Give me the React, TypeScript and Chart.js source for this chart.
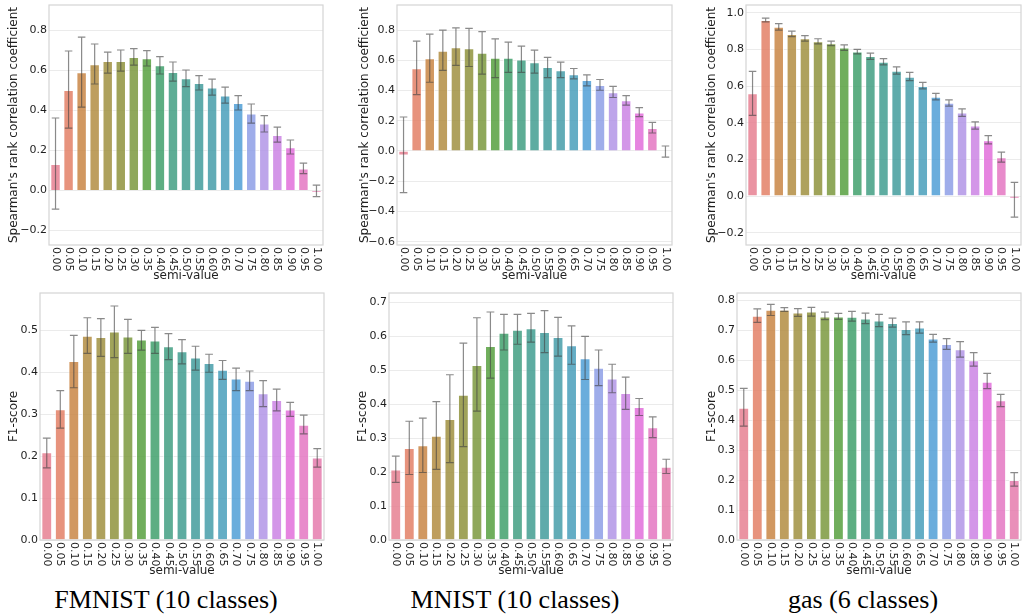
import React, { useEffect, useRef } from "react";
import { Chart, registerables } from "chart.js";
Chart.register(...registerables);

// ---------- data ----------
const semiValues = ["0.00","0.05","0.10","0.15","0.20","0.25","0.30","0.35","0.40","0.45","0.50","0.55","0.60","0.65","0.70","0.75","0.80","0.85","0.90","0.95","1.00"];

const fmnistSpearman = [0.133,0.503,0.592,0.632,0.648,0.648,0.668,0.662,0.627,0.593,0.562,0.538,0.515,0.475,0.438,0.385,0.335,0.278,0.217,0.11,-0.008];
const fmnistSpearmanLo = [-0.093,0.312,0.417,0.533,0.587,0.597,0.627,0.623,0.583,0.547,0.52,0.503,0.477,0.437,0.403,0.337,0.293,0.242,0.183,0.085,-0.03];
const fmnistSpearmanHi = [0.363,0.698,0.767,0.733,0.692,0.703,0.71,0.70,0.67,0.643,0.603,0.575,0.557,0.517,0.475,0.433,0.375,0.317,0.253,0.137,0.027];

const mnistSpearman = [-0.029,0.548,0.614,0.663,0.687,0.68,0.65,0.617,0.617,0.605,0.588,0.555,0.535,0.508,0.47,0.437,0.389,0.336,0.254,0.152,-0.004];
const mnistSpearmanLo = [-0.276,0.373,0.455,0.533,0.566,0.559,0.508,0.486,0.52,0.52,0.515,0.486,0.486,0.477,0.431,0.402,0.354,0.303,0.228,0.119,-0.04];
const mnistSpearmanHi = [0.225,0.727,0.773,0.80,0.815,0.811,0.79,0.742,0.72,0.694,0.667,0.619,0.588,0.546,0.504,0.473,0.427,0.367,0.287,0.19,0.033];

const gasSpearman = [0.56,0.96,0.924,0.884,0.86,0.844,0.833,0.81,0.789,0.764,0.733,0.684,0.651,0.60,0.542,0.509,0.455,0.385,0.305,0.211,-0.015];
const gasSpearmanLo = [0.44,0.95,0.905,0.87,0.845,0.83,0.82,0.795,0.775,0.745,0.715,0.665,0.63,0.585,0.525,0.49,0.435,0.365,0.285,0.185,-0.115];
const gasSpearmanHi = [0.68,0.97,0.94,0.90,0.875,0.858,0.845,0.825,0.80,0.78,0.75,0.705,0.675,0.62,0.56,0.525,0.475,0.405,0.33,0.24,0.075];

const fmnistF1 = [0.209,0.312,0.427,0.487,0.484,0.497,0.485,0.478,0.476,0.462,0.45,0.435,0.422,0.406,0.385,0.38,0.35,0.334,0.311,0.275,0.197];
const fmnistF1Lo = [0.172,0.267,0.363,0.445,0.438,0.435,0.445,0.453,0.445,0.43,0.42,0.405,0.40,0.383,0.356,0.356,0.318,0.308,0.295,0.253,0.174];
const fmnistF1Hi = [0.243,0.356,0.488,0.53,0.528,0.558,0.526,0.50,0.507,0.492,0.478,0.462,0.443,0.428,0.41,0.403,0.38,0.36,0.328,0.298,0.218];

const mnistF1 = [0.208,0.271,0.279,0.307,0.357,0.428,0.516,0.572,0.611,0.62,0.624,0.613,0.598,0.574,0.536,0.508,0.476,0.433,0.392,0.332,0.216];
const mnistF1Lo = [0.17,0.193,0.199,0.208,0.228,0.275,0.38,0.477,0.56,0.577,0.583,0.552,0.542,0.518,0.473,0.455,0.434,0.385,0.367,0.302,0.196];
const mnistF1Hi = [0.247,0.35,0.359,0.408,0.487,0.58,0.655,0.672,0.665,0.665,0.668,0.676,0.656,0.631,0.60,0.56,0.518,0.48,0.417,0.363,0.238];

const gasF1 = [0.441,0.748,0.768,0.768,0.759,0.762,0.746,0.746,0.745,0.739,0.732,0.724,0.704,0.709,0.672,0.654,0.636,0.60,0.528,0.466,0.20];
const gasF1Lo = [0.38,0.726,0.749,0.763,0.746,0.747,0.735,0.736,0.73,0.722,0.712,0.71,0.685,0.69,0.66,0.636,0.61,0.58,0.505,0.445,0.18];
const gasF1Hi = [0.506,0.771,0.786,0.775,0.772,0.776,0.76,0.756,0.763,0.757,0.753,0.74,0.728,0.728,0.686,0.672,0.662,0.625,0.556,0.486,0.225];

const ticksFmnistSpearman = [-0.2,0,0.2,0.4,0.6,0.8];
const ticksMnistSpearman = [-0.6,-0.4,-0.2,0,0.2,0.4,0.6,0.8];
const ticksGasSpearman = [-0.2,0,0.2,0.4,0.6,0.8,1.0];
const ticksFmnistF1 = [0,0.1,0.2,0.3,0.4,0.5];
const ticksMnistF1 = [0,0.1,0.2,0.3,0.4,0.5,0.6,0.7];
const ticksGasF1 = [0,0.1,0.2,0.3,0.4,0.5,0.6,0.7,0.8];

const spearmanLabel = "Spearman's rank correlation coefficient";
const f1Label = "F1-score";
const xLabel = "semi-value";
const captions = ["FMNIST (10 classes)", "MNIST (10 classes)", "gas (6 classes)"];

// ---------- seaborn husl palette ----------
const M = [[3.2406, -1.5372, -0.4986], [-0.9689, 1.8758, 0.0415], [0.0557, -0.2040, 1.0570]];
const refU = 0.19784, refV = 0.46834, labE = 0.008856, labK = 903.3;
function maxChroma(L: number, H: number) {
  const hrad = (H * Math.PI) / 180;
  const sinH = Math.sin(hrad), cosH = Math.cos(hrad);
  const sub1 = Math.pow(L + 16, 3) / 1560896.0;
  const sub2 = sub1 > 0.008856 ? sub1 : L / 903.3;
  let result = Infinity;
  for (const row of M) {
    const [m1, m2, m3] = row;
    const top = (0.99915 * m1 + 1.05122 * m2 + 1.1446 * m3) * sub2;
    const rbottom = 0.8633 * m3 - 0.17266 * m2;
    const lbottom = 0.12949 * m3 - 0.38848 * m1;
    const bottom = (rbottom * sinH + lbottom * cosH) * sub2;
    for (const t of [0, 1]) {
      const C = (L * (top - 1.05122 * t)) / (bottom + 0.17266 * sinH * t);
      if (C > 0 && C < result) result = C;
    }
  }
  return result;
}
function huslToRgb(H: number, S: number, L: number) {
  const C = (maxChroma(L, H) / 100) * S;
  const hrad = (H * Math.PI) / 180;
  const U = Math.cos(hrad) * C, V = Math.sin(hrad) * C;
  const t = (L + 16) / 116;
  const Y = Math.pow(t, 3) > labE ? Math.pow(t, 3) : (116 * t - 16) / labK;
  const varU = U / (13 * L) + refU, varV = V / (13 * L) + refV;
  const X = -(9 * Y * varU) / ((varU - 4) * varV - varU * varV);
  const Z = (9 * Y - 15 * varV * Y - varV * X) / (3 * varV);
  const f = (c: number) => (c <= 0.0031308 ? 12.92 * c : 1.055 * Math.pow(c, 1 / 2.4) - 0.055);
  return M.map((r) => Math.min(1, Math.max(0, f(r[0] * X + r[1] * Y + r[2] * Z))));
}
function barPalette(n: number) {
  const out: string[] = [];
  for (let i = 0; i < n; i++) {
    const h = ((i / n + 0.01) % 1) * 359;
    const rgb = huslToRgb(h, 0.9 * 99, 0.65 * 99);
    const mx = Math.max(...rgb), mn = Math.min(...rgb);
    const l = (mx + mn) / 2;
    const d = rgb.map((c) => l + (c - l) * 0.75);
    out.push(`rgba(${d.map((c) => Math.round(c * 255)).join(",")},0.86)`);
  }
  return out;
}
const colors = barPalette(semiValues.length);

// ---------- panels ----------
type Panel = {
  values: number[]; lo: number[]; hi: number[]; ticks: number[];
  min: number; max: number; yLabel: string;
  canvas: { x: number; y: number; w: number; h: number };
  area: { l: number; t: number; r: number; b: number };
  yTitleX: number;
};

const panels: Panel[] = [
  { values: fmnistSpearman, lo: fmnistSpearmanLo, hi: fmnistSpearmanHi, ticks: ticksFmnistSpearman, min: -0.272, max: 0.928, yLabel: spearmanLabel,
    canvas: { x: 0, y: 0, w: 340, h: 285 }, area: { l: 49, t: 5, r: 323, b: 245 }, yTitleX: 14 },
  { values: mnistSpearman, lo: mnistSpearmanLo, hi: mnistSpearmanHi, ticks: ticksMnistSpearman, min: -0.622, max: 0.966, yLabel: spearmanLabel,
    canvas: { x: 340, y: 0, w: 340, h: 285 }, area: { l: 397, t: 5, r: 672, b: 245 }, yTitleX: 365 },
  { values: gasSpearman, lo: gasSpearmanLo, hi: gasSpearmanHi, ticks: ticksGasSpearman, min: -0.267, max: 1.042, yLabel: spearmanLabel,
    canvas: { x: 680, y: 0, w: 343, h: 285 }, area: { l: 746, t: 5, r: 1021, b: 245 }, yTitleX: 712 },
  { values: fmnistF1, lo: fmnistF1Lo, hi: fmnistF1Hi, ticks: ticksFmnistF1, min: 0, max: 0.589, yLabel: f1Label,
    canvas: { x: 0, y: 285, w: 340, h: 297 }, area: { l: 40, t: 293, r: 324, b: 540 }, yTitleX: 14 },
  { values: mnistF1, lo: mnistF1Lo, hi: mnistF1Hi, ticks: ticksMnistF1, min: 0, max: 0.728, yLabel: f1Label,
    canvas: { x: 340, y: 285, w: 340, h: 297 }, area: { l: 389, t: 293, r: 673, b: 540 }, yTitleX: 363 },
  { values: gasF1, lo: gasF1Lo, hi: gasF1Hi, ticks: ticksGasF1, min: 0, max: 0.824, yLabel: f1Label,
    canvas: { x: 680, y: 285, w: 343, h: 297 }, area: { l: 737, t: 293, r: 1021, b: 540 }, yTitleX: 712 },
];

const captionPos = [{ x: 166, y: 600 }, { x: 515, y: 600 }, { x: 863, y: 600 }];

const TEXT = "#1f1f1f";
const FONT = "'DejaVu Sans', sans-serif";

function fmt(v: number) {
  if (Math.abs(v) < 1e-9) return "0.0";
  return (v < 0 ? "\u2212" : "") + Math.abs(v).toFixed(1);
}

function PanelChart({ p }: { p: Panel }) {
  const ref = useRef<HTMLCanvasElement | null>(null);
  useEffect(() => {
    if (!ref.current) return;
    const c = p.canvas, a = p.area;
    const yWidth = a.l - c.x;
    const xHeight = c.y + c.h - a.b;
    const overlay = {
      id: "overlay",
      afterDatasetsDraw(chart: any) {
        const ctx = chart.ctx;
        const ys = chart.scales.y;
        const meta = chart.getDatasetMeta(0);
        ctx.save();
        ctx.strokeStyle = "rgba(66,66,66,0.62)";
        ctx.lineWidth = 1.2;
        meta.data.forEach((bar: any, i: number) => {
          const x = bar.x;
          const half = bar.width * 0.36;
          const y1 = ys.getPixelForValue(p.lo[i]);
          const y2 = ys.getPixelForValue(p.hi[i]);
          ctx.beginPath();
          ctx.moveTo(x, y1); ctx.lineTo(x, y2);
          ctx.moveTo(x - half, y1); ctx.lineTo(x + half, y1);
          ctx.moveTo(x - half, y2); ctx.lineTo(x + half, y2);
          ctx.stroke();
        });
        ctx.restore();
      },
      afterDraw(chart: any) {
        const ctx = chart.ctx;
        const ca = chart.chartArea;
        const xs = chart.scales.x;
        ctx.save();
        ctx.strokeStyle = "#d4d4d4";
        ctx.lineWidth = 1.2;
        ctx.strokeRect(ca.left, ca.top, ca.right - ca.left, ca.bottom - ca.top);
        ctx.fillStyle = TEXT;
        ctx.font = `11px ${FONT}`;
        semiValues.forEach((lab, i) => {
          const x = xs.getPixelForValue(i);
          ctx.save();
          ctx.translate(x, ca.bottom + 2);
          ctx.rotate(Math.PI / 2);
          ctx.textAlign = "left";
          ctx.textBaseline = "middle";
          ctx.fillText(lab, 0, 0);
          ctx.restore();
        });
        ctx.font = `12px ${FONT}`;
        ctx.textAlign = "center";
        ctx.textBaseline = "middle";
        ctx.fillText(xLabel, (ca.left + ca.right) / 2, ca.bottom + 31);
        ctx.save();
        ctx.translate(p.yTitleX - c.x, (ca.top + ca.bottom) / 2);
        ctx.rotate(-Math.PI / 2);
        ctx.fillText(p.yLabel, 0, 0);
        ctx.restore();
        ctx.restore();
      },
    };
    const chart = new Chart(ref.current, {
      type: "bar",
      data: {
        labels: semiValues,
        datasets: [{
          data: p.values,
          backgroundColor: colors,
          borderColor: "rgba(255,255,255,0.75)",
          borderWidth: 1,
          barPercentage: 0.8,
          categoryPercentage: 1.0,
        }],
      },
      options: {
        responsive: false,
        animation: false,
        layout: { padding: { left: 0, top: a.t - c.y, right: c.x + c.w - a.r, bottom: 0 } },
        plugins: { legend: { display: false }, tooltip: { enabled: false } },
        scales: {
          x: {
            type: "category",
            offset: true,
            grid: { display: false, drawTicks: false },
            border: { display: false },
            ticks: { display: false },
            afterFit: (s: any) => { s.height = xHeight; s.paddingLeft = 0; s.paddingRight = 0; },
          },
          y: {
            type: "linear",
            min: p.min,
            max: p.max,
            grid: { color: "#ebebeb", lineWidth: 1, drawTicks: false },
            border: { display: false },
            ticks: {
              padding: 2,
              color: TEXT,
              font: { family: FONT, size: 11 },
              callback: (v: any) => fmt(Number(v)),
            },
            afterBuildTicks: (s: any) => { s.ticks = p.ticks.map((v) => ({ value: v })); },
            afterFit: (s: any) => { s.width = yWidth; s.paddingTop = 0; s.paddingBottom = 0; },
          },
        },
      },
      plugins: [overlay as any],
    });
    return () => chart.destroy();
  }, [p]);
  return (
    <canvas
      ref={ref}
      width={p.canvas.w}
      height={p.canvas.h}
      style={{ position: "absolute", left: p.canvas.x, top: p.canvas.y, width: p.canvas.w, height: p.canvas.h }}
    />
  );
}

export default function App() {
  return (
    <div style={{ position: "absolute", left: 0, top: 0, width: 1023, height: 614, background: "#fff", overflow: "hidden" }}>
      {panels.map((p, i) => <PanelChart key={i} p={p} />)}
      {captions.map((t, i) => (
        <div key={t} style={{
          position: "absolute", left: captionPos[i].x, top: captionPos[i].y,
          transform: "translate(-50%, -50%)", whiteSpace: "nowrap",
          fontFamily: "'Liberation Serif', 'Times New Roman', serif", fontSize: 26, lineHeight: "30px", color: "#000",
        }}>{t}</div>
      ))}
    </div>
  );
}
